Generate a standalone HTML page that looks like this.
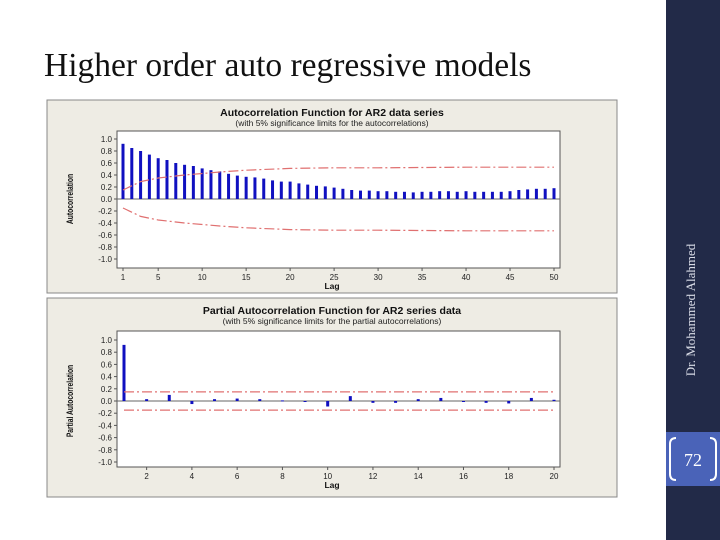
<!DOCTYPE html>
<html><head><meta charset="utf-8"><style>
body{margin:0;width:720px;height:540px;background:#fff;position:relative;overflow:hidden;font-family:"Liberation Sans",sans-serif}
#title{position:absolute;left:44px;top:47px;font:33.5px "Liberation Serif",serif;color:#111;white-space:nowrap}
#bar{position:absolute;left:666px;top:0;width:54px;height:540px;background:#222a48}
#author{position:absolute;left:691px;top:310px;transform:translate(-50%,-50%) rotate(-90deg);white-space:nowrap;color:#d8dbe6;font:13px "Liberation Serif",serif}
#pg{position:absolute;left:666px;top:432px;width:54px;height:54px;background:#4a63b8;color:#fff;font:18px "Liberation Serif",serif}
svg{position:absolute;left:0;top:0}
</style></head><body>
<div id="title">Higher order auto regressive models</div>
<div id="bar"></div>
<div id="author">Dr. Mohammed Alahmed</div>
<div id="pg"><svg width="54" height="54"><path d="M10 6 Q4 6 4 12 V42 Q4 48 10 48 M44 6 Q50 6 50 12 V42 Q50 48 44 48" stroke="#fff" stroke-width="2" fill="none"/><text x="27" y="34" text-anchor="middle" fill="#fff" font-family="Liberation Serif" font-size="18">72</text></svg></div>
<svg id="chart" width="720" height="540"></svg>
<script>
const acfLags=[];for(let i=1;i<=50;i++)acfLags.push(i);
const acfValues=[0.92,0.85,0.80,0.74,0.68,0.65,0.60,0.57,0.55,0.51,0.48,0.46,0.42,0.39,0.37,0.36,0.34,0.31,0.29,0.29,0.26,0.24,0.22,0.21,0.19,0.17,0.15,0.14,0.14,0.13,0.13,0.12,0.12,0.11,0.12,0.12,0.13,0.13,0.12,0.13,0.12,0.12,0.12,0.12,0.13,0.15,0.16,0.17,0.17,0.18];
const acfLimitLags=[1,3,5,8,12,15,20,25,30,40,50];
const acfLimits=[0.15,0.29,0.35,0.40,0.45,0.48,0.51,0.52,0.52,0.53,0.53];
const acfXTicks=[1,5,10,15,20,25,30,35,40,45,50];
const pacfValues=[0.92,0.03,0.10,-0.05,0.03,0.04,0.03,0.01,0,-0.09,0.08,-0.03,-0.03,0.03,0.05,0,-0.03,-0.04,0.05,0.02];
const pacfLimit=0.15;
const pacfXTicks=[2,4,6,8,10,12,14,16,18,20];
const yTicks=[1.0,0.8,0.6,0.4,0.2,0.0,-0.2,-0.4,-0.6,-0.8,-1.0];
const NS="http://www.w3.org/2000/svg";
const svg=document.getElementById('chart');
function mk(t,a,p){const e=document.createElementNS(NS,t);for(const k in a)e.setAttribute(k,a[k]);(p||svg).appendChild(e);return e;}
function txt(x,y,s,a,p){const e=mk('text',Object.assign({x:x,y:y},a),p);e.textContent=s;return e;}
function panel(cfg){
 const g=mk('g',{});
 
 
 mk('rect',{x:47,y:cfg.py,width:570,height:cfg.ph,fill:'#eeece4',stroke:'#888'},g);
 mk('rect',{x:cfg.l,y:cfg.t,width:cfg.r-cfg.l,height:cfg.b-cfg.t,fill:'#fff',stroke:'#555'},g);
 const X=v=>cfg.x0+(v-cfg.lag0)*(cfg.x1-cfg.x0)/(cfg.lag1-cfg.lag0);
 const Y=v=>cfg.y0-v*(cfg.y0-cfg.y1);
 const tt=txt(332,cfg.py+16,cfg.title,{'text-anchor':'middle','font-size':'10.5','font-weight':'bold',fill:'#111'},g);
 
 txt(332,cfg.py+26,cfg.sub,{'text-anchor':'middle','font-size':'8.5',fill:'#222'},g);
 yTicks.forEach(v=>{mk('line',{x1:cfg.l-3,x2:cfg.l,y1:Y(v),y2:Y(v),stroke:'#555'},g);
  txt(cfg.l-5,Y(v)+3,v.toFixed(1),{'text-anchor':'end','font-size':'8',fill:'#222'},g);});
 cfg.xt.forEach(v=>{mk('line',{x1:X(v),x2:X(v),y1:cfg.b,y2:cfg.b+3,stroke:'#555'},g);
  txt(X(v),cfg.b+12,String(v),{'text-anchor':'middle','font-size':'8',fill:'#222'},g);});
 txt(332,cfg.b+21,'Lag',{'text-anchor':'middle','font-size':'8.5','font-weight':'bold',fill:'#111'},g);
 const yl=txt(0,0,cfg.ylab,{'text-anchor':'middle','font-size':'9','font-weight':'bold',fill:'#111',transform:`translate(${cfg.l-44},${cfg.y0}) rotate(-90) scale(0.75,1)`},g);
 
 mk('line',{x1:cfg.l,x2:cfg.r,y1:Y(0),y2:Y(0),stroke:'#666'},g);
 return {g,X,Y};
}
const a=panel({name:'acf-chart',py:100,ph:193,l:117,r:560,t:131,b:268,x0:123,x1:554,lag0:1,lag1:50,y0:199,y1:139,xt:acfXTicks,
 title:'Autocorrelation Function for AR2 data series',sub:'(with 5% significance limits for the autocorrelations)',ylab:'Autocorrelation'});
acfValues.forEach((v,i)=>{const x=a.X(acfLags[i]);const r=mk('rect',{x:x-1.5,y:Math.min(a.Y(v),a.Y(0)),width:3,height:Math.abs(a.Y(v)-a.Y(0)),fill:'#1010c0'},a.g);
 });
[1,-1].forEach(s=>{const pts=acfLimitLags.map((l,i)=>a.X(l)+','+a.Y(s*acfLimits[i])).join(' ');
 const p=mk('polyline',{points:pts,fill:'none',stroke:'#e07070','stroke-width':1.2,'stroke-dasharray':'10,3,2,3'},a.g);
 });
const b=panel({name:'pacf-chart',py:298,ph:199,l:117,r:560,t:331,b:467,x0:124,x1:554,lag0:1,lag1:20,y0:401,y1:340,xt:pacfXTicks,
 title:'Partial Autocorrelation Function for AR2 series data',sub:'(with 5% significance limits for the partial autocorrelations)',ylab:'Partial Autocorrelation'});
pacfValues.forEach((v,i)=>{const x=b.X(i+1);const r=mk('rect',{x:x-1.5,y:Math.min(b.Y(v),b.Y(0)),width:3,height:Math.max(1,Math.abs(b.Y(v)-b.Y(0))),fill:'#1010c0'},b.g);
 });
[1,-1].forEach(s=>{const l=mk('line',{x1:b.X(1),x2:b.X(20),y1:b.Y(s*pacfLimit),y2:b.Y(s*pacfLimit),stroke:'#e07070','stroke-width':1.2,'stroke-dasharray':'10,3,2,3'},b.g);
 });
</script>
</body></html>
